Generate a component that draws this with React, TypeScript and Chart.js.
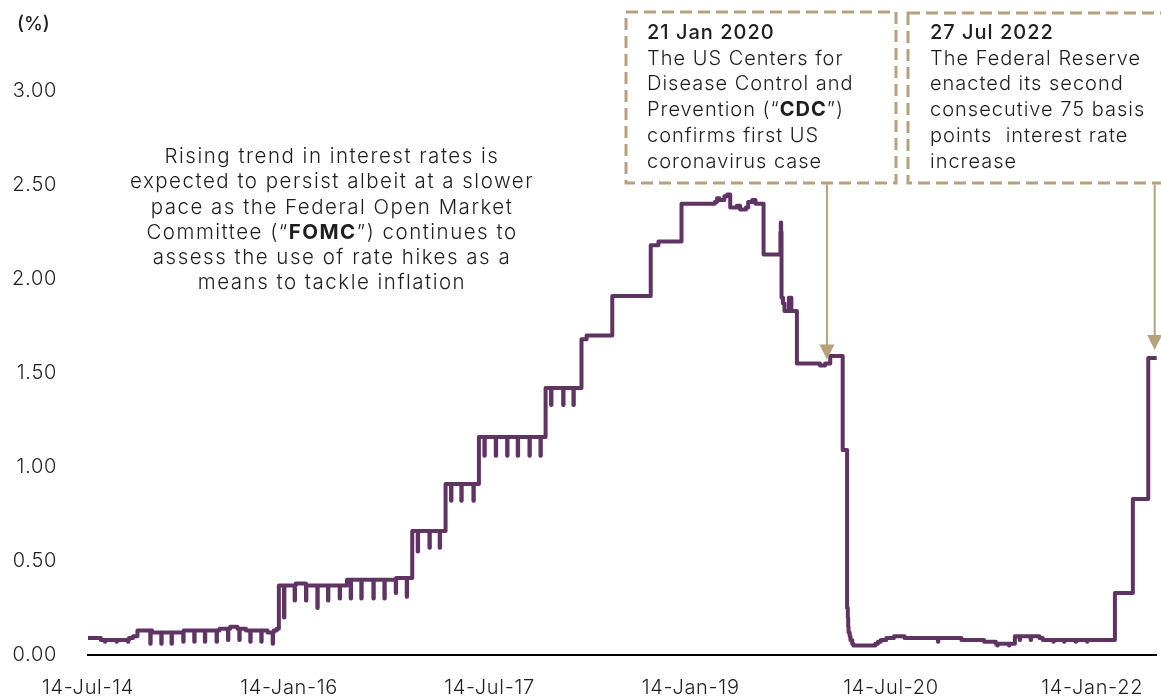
import React, { useEffect, useRef } from 'react';
import { Chart, registerables } from 'chart.js';

Chart.register(...registerables);

// Effective federal funds rate, stored as the dates on which the daily level changes.
const levelDates = [
  '2014-07-14', '2014-08-18', '2014-11-03', '2014-11-14', '2014-11-26', '2015-01-05', '2015-04-01',
  '2015-07-08', '2015-08-06', '2015-08-26', '2015-09-18', '2015-11-16', '2015-12-03', '2015-12-11',
  '2015-12-17', '2016-02-01', '2016-03-01', '2016-06-20', '2016-11-01', '2016-12-15', '2017-03-16',
  '2017-06-15', '2017-12-14', '2018-03-22', '2018-04-05', '2018-06-14', '2018-09-27', '2018-10-18',
  '2018-12-20', '2019-03-21', '2019-03-27', '2019-04-03', '2019-04-16', '2019-04-24', '2019-05-02',
  '2019-05-20', '2019-05-29', '2019-06-14', '2019-06-20', '2019-07-01', '2019-07-10', '2019-08-01',
  '2019-09-16', '2019-09-19', '2019-09-23', '2019-09-27', '2019-10-09', '2019-10-16', '2019-10-31',
  '2020-01-02', '2020-01-16', '2020-01-30', '2020-03-04', '2020-03-16', '2020-03-18', '2020-03-19',
  '2020-03-20', '2020-03-23', '2020-03-25', '2020-03-30', '2020-04-02', '2020-06-01', '2020-06-08',
  '2020-06-16', '2020-07-01', '2020-07-22', '2020-08-20', '2021-01-22', '2021-03-25', '2021-04-26',
  '2021-06-17', '2021-08-23', '2021-09-01', '2022-03-17', '2022-05-05', '2022-06-16', '2022-07-27',
];
const levelValues = [
  0.09, 0.08, 0.09, 0.10, 0.13, 0.12, 0.13,
  0.14, 0.15, 0.14, 0.13, 0.12, 0.13, 0.14,
  0.37, 0.38, 0.37, 0.40, 0.41, 0.66, 0.91,
  1.16, 1.42, 1.68, 1.70, 1.91, 2.18, 2.20,
  2.40, 2.41, 2.43, 2.42, 2.44, 2.45, 2.38,
  2.39, 2.37, 2.38, 2.41, 2.42, 2.40, 2.13,
  2.25, 1.90, 1.87, 1.83, 1.90, 1.83, 1.55,
  1.54, 1.55, 1.59, 1.09, 0.25, 0.20, 0.15,
  0.12, 0.10, 0.08, 0.06, 0.05, 0.06, 0.07,
  0.08, 0.09, 0.10, 0.09, 0.08, 0.07, 0.06,
  0.10, 0.09, 0.08, 0.33, 0.83, 1.58, 1.58,
];

// Single-day prints (mostly month-end dips) that revert to the prevailing level the next day.
const oneDayDates = [
  '2014-08-29', '2014-09-30', '2014-10-31', '2014-12-31', '2015-01-30', '2015-02-27', '2015-03-31',
  '2015-04-30', '2015-05-29', '2015-06-30', '2015-07-31', '2015-08-31', '2015-09-30', '2015-10-30',
  '2015-11-30', '2015-12-31', '2016-01-29', '2016-02-29', '2016-03-31', '2016-04-29', '2016-05-31',
  '2016-06-30', '2016-07-29', '2016-08-31', '2016-09-30', '2016-10-31', '2016-11-30', '2016-12-30',
  '2017-01-31', '2017-02-28', '2017-03-31', '2017-04-28', '2017-05-31', '2017-06-30', '2017-07-31',
  '2017-08-31', '2017-09-29', '2017-10-31', '2017-11-30', '2017-12-29', '2018-01-31', '2018-02-28',
  '2019-09-17', '2020-11-19', '2021-04-30', '2021-06-01', '2021-06-30', '2021-07-30', '2021-09-30',
  '2021-10-29', '2021-11-30', '2021-12-31',
];
const oneDayValues = [
  0.07, 0.07, 0.07, 0.06, 0.06, 0.06, 0.07,
  0.07, 0.07, 0.07, 0.08, 0.08, 0.07, 0.07,
  0.06, 0.20, 0.29, 0.29, 0.25, 0.29, 0.30,
  0.30, 0.30, 0.30, 0.30, 0.33, 0.31, 0.55,
  0.57, 0.57, 0.82, 0.82, 0.82, 1.06, 1.06,
  1.06, 1.06, 1.06, 1.06, 1.33, 1.33, 1.33,
  2.30, 0.07, 0.05, 0.05, 0.08, 0.08, 0.07,
  0.07, 0.07, 0.07,
];

const xStartDate = '2014-07-14';
const xEndDate = '2022-07-09';
const xTickDates = ['2014-07-14', '2016-01-14', '2017-07-14', '2019-01-14', '2020-07-14', '2022-01-14'];
const xTickLabels = ['14-Jul-14', '14-Jan-16', '14-Jul-17', '14-Jan-19', '14-Jul-20', '14-Jan-22'];
const yMin = 0;
const yMax = 3;
const yStep = 0.5;

const unitLabel = '(%)';
const noteLines = [
  'Rising trend in interest rates is',
  'expected to persist albeit at a slower',
  'pace as the Federal Open Market',
  'Committee (“**FOMC**”) continues to',
  'assess the use of rate hikes as a',
  'means to tackle inflation',
];
const cdcDate = '2020-01-21';
const cdcTitle = '21 Jan 2020';
const cdcLines = [
  'The US Centers for',
  'Disease Control and',
  'Prevention (“**CDC**”)',
  'confirms first US',
  'coronavirus case',
];
const fedDate = '2022-07-27';
const fedTitle = '27 Jul 2022';
const fedLines = [
  'The Federal Reserve',
  'enacted its second',
  'consecutive 75 basis',
  'points  interest rate',
  'increase',
];

const FONT = 'Inter, "Noto Sans", sans-serif';
const LINE_COLOR = '#5f3463';
const TAN = '#b5a27c';
const TEXT = '#1e1e1e';

function dayNum(iso: string): number {
  const [y, m, d] = iso.split('-').map(Number);
  return Date.UTC(y, m - 1, d) / 86400000;
}

const levels = levelDates.map((d, i) => ({ x: dayNum(d), y: levelValues[i] }));

function levelAt(x: number): number {
  let v = levels[0].y;
  for (const p of levels) {
    if (p.x <= x) v = p.y;
    else break;
  }
  return v;
}

function buildPoints() {
  const byDay = new Map<number, number>();
  levels.forEach((p) => byDay.set(p.x, p.y));
  oneDayDates.forEach((d, i) => {
    const x = dayNum(d);
    const back = levelAt(x);
    byDay.set(x, oneDayValues[i]);
    if (!byDay.has(x + 1)) byDay.set(x + 1, back);
  });
  return [...byDay.entries()].sort((a, b) => a[0] - b[0]).map(([x, y]) => ({ x, y }));
}

type Seg = { t: string; b: boolean };
const splitBold = (line: string): Seg[] => line.split('**').map((t, i) => ({ t, b: i % 2 === 1 }));

function drawRichLine(
  ctx: CanvasRenderingContext2D,
  line: string,
  x: number,
  y: number,
  align: 'left' | 'center',
  size: number,
  weight: number,
) {
  const segs = splitBold(line);
  const fontFor = (b: boolean) => `${b ? 700 : weight} ${size}px ${FONT}`;
  const widths = segs.map((s) => {
    ctx.font = fontFor(s.b);
    return ctx.measureText(s.t).width;
  });
  const total = widths.reduce((a, b) => a + b, 0);
  let cx = align === 'center' ? x - total / 2 : x;
  ctx.textAlign = 'left';
  ctx.textBaseline = 'middle';
  segs.forEach((s, i) => {
    ctx.font = fontFor(s.b);
    ctx.fillText(s.t, cx, y);
    cx += widths[i];
  });
}

const callouts = [
  { title: cdcTitle, lines: cdcLines, date: cdcDate, box: [626, 12, 896, 183], tx: 647, ty: 33, gap: 4 },
  { title: fedTitle, lines: fedLines, date: fedDate, box: [908, 13, 1185, 183], tx: 930, ty: 33, gap: 8 },
];

const notesPlugin = {
  id: 'rateNotes',
  beforeDraw(chart: any) {
    chart.ctx.letterSpacing = '0.7px';
  },
  afterDraw(chart: any) {
    const { ctx, chartArea } = chart;
    const xs = chart.scales.x;
    const ys = chart.scales.y;
    ctx.save();
    ctx.fillStyle = TEXT;

    ctx.letterSpacing = '0px';
    ctx.font = `500 19px ${FONT}`;
    ctx.textAlign = 'left';
    ctx.textBaseline = 'middle';
    ctx.fillText(unitLabel, 17, 24);

    ctx.letterSpacing = '1.5px';
    noteLines.forEach((l, i) => drawRichLine(ctx, l, 332, 157 + i * 25.2, 'center', 20.5, 300));

    callouts.forEach((c) => {
      const [x0, y0, x1, y1] = c.box;
      ctx.save();
      ctx.strokeStyle = TAN;
      ctx.lineWidth = 3;
      ctx.setLineDash([12, 6]);
      ctx.strokeRect(x0, y0, x1 - x0, y1 - y0);
      ctx.restore();

      ctx.fillStyle = TEXT;
      ctx.letterSpacing = '1px';
      drawRichLine(ctx, c.title, c.tx, c.ty, 'left', 20, 500);
      c.lines.forEach((l, i) => drawRichLine(ctx, l, c.tx, c.ty + (i + 1) * 25.7, 'left', 20, 300));

      const d = dayNum(c.date);
      const ax = Math.min(xs.getPixelForValue(d), chartArea.right - 2);
      const tip = ys.getPixelForValue(levelAt(d)) - c.gap;
      const headH = 15;
      const headW = 15;
      ctx.strokeStyle = TAN;
      ctx.fillStyle = TAN;
      ctx.lineWidth = 2;
      ctx.beginPath();
      ctx.moveTo(ax, y1 + 1.5);
      ctx.lineTo(ax, tip - headH + 1);
      ctx.stroke();
      ctx.beginPath();
      ctx.moveTo(ax - headW / 2, tip - headH);
      ctx.lineTo(ax + headW / 2, tip - headH);
      ctx.lineTo(ax, tip);
      ctx.closePath();
      ctx.fill();
    });
    ctx.restore();
  },
};

export default function App() {
  const canvasRef = useRef<HTMLCanvasElement | null>(null);

  useEffect(() => {
    const canvas = canvasRef.current;
    if (!canvas) return;
    const points = buildPoints();
    const tickDays = xTickDates.map(dayNum);
    const tickFont = { family: FONT, size: 20, weight: 300 as any };

    const chart = new Chart(canvas, {
      type: 'line',
      data: {
        datasets: [
          {
            data: points,
            borderColor: LINE_COLOR,
            borderWidth: 4,
            pointRadius: 0,
            stepped: true,
            fill: false,
            borderJoinStyle: 'round',
            borderCapStyle: 'round',
          },
        ],
      },
      options: {
        animation: false,
        responsive: false,
        maintainAspectRatio: false,
        layout: { padding: { top: 91, left: 0, right: 0, bottom: 0 } },
        plugins: { legend: { display: false }, tooltip: { enabled: false } },
        scales: {
          x: {
            type: 'linear',
            min: dayNum(xStartDate),
            max: dayNum(xEndDate),
            grid: { display: false, drawTicks: false },
            border: { display: true, color: '#000000', width: 2 },
            ticks: {
              font: tickFont,
              color: TEXT,
              padding: 21,
              maxRotation: 0,
              autoSkip: false,
              callback: (v: any) => {
                const i = tickDays.indexOf(Number(v));
                return i >= 0 ? xTickLabels[i] : '';
              },
            },
            afterBuildTicks: (scale: any) => {
              scale.ticks = tickDays.map((value) => ({ value }));
            },
            afterFit: (scale: any) => {
              scale.height = 43;
            },
          },
          y: {
            min: yMin,
            max: yMax,
            grid: { display: false, drawTicks: false },
            border: { display: false },
            ticks: {
              stepSize: yStep,
              font: tickFont,
              color: TEXT,
              padding: 31,
              callback: (v: any) => Number(v).toFixed(2),
            },
            afterFit: (scale: any) => {
              scale.width = 88;
            },
          },
        },
      },
      plugins: [notesPlugin],
    });
    return () => chart.destroy();
  }, []);

  return (
    <div style={{ position: 'fixed', left: 0, top: 0, width: 1161, height: 698, background: '#ffffff' }}>
      <canvas ref={canvasRef} width={1161} height={698} style={{ display: 'block' }} />
    </div>
  );
}
